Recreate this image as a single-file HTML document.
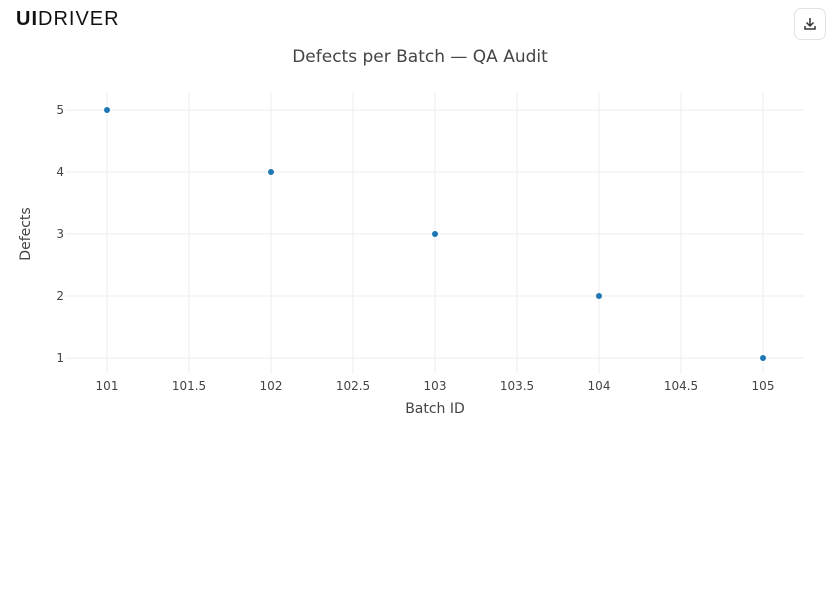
<!DOCTYPE html>
<html><head><meta charset="utf-8"><style>
body{margin:0;width:840px;height:600px;background:#fff;overflow:hidden;font-family:"Liberation Sans",sans-serif;}
.btn{position:absolute;left:794px;top:8px;width:32px;height:32px;border:1px solid #e2e2e2;border-radius:7px;box-sizing:border-box;}
</style></head><body>
<div style="position:absolute;left:16px;top:9px;font-size:20px;font-weight:bold;letter-spacing:1px;color:#111;line-height:20px">UI<span style="font-weight:normal">DRIVER</span></div>
<div class="btn"><svg width="30" height="30" viewBox="0 0 30 30"><path d="M15 9v8M11.5 13.5L15 17l3.5-3.5M10 17v3h10v-3" stroke="#333" stroke-width="1.5" fill="none"/></svg></div>
<svg width="840" height="600" style="position:absolute;left:0;top:0" font-family="DejaVu Sans, sans-serif">
<text x="420" y="62" text-anchor="middle" font-size="17" fill="#444">Defects per Batch — QA Audit</text>
<g stroke="#ececec" stroke-width="1">
<line x1="107" y1="92" x2="107" y2="374"/><line x1="189" y1="92" x2="189" y2="374"/><line x1="271" y1="92" x2="271" y2="374"/><line x1="353" y1="92" x2="353" y2="374"/><line x1="435" y1="92" x2="435" y2="374"/><line x1="517" y1="92" x2="517" y2="374"/><line x1="599" y1="92" x2="599" y2="374"/><line x1="681" y1="92" x2="681" y2="374"/><line x1="763" y1="92" x2="763" y2="374"/>
<line x1="66" y1="110" x2="804" y2="110"/><line x1="66" y1="172" x2="804" y2="172"/><line x1="66" y1="234" x2="804" y2="234"/><line x1="66" y1="296" x2="804" y2="296"/><line x1="66" y1="358" x2="804" y2="358"/>
</g>
<g font-size="12" fill="#444" text-anchor="middle">
<text x="107" y="390">101</text><text x="189" y="390">101.5</text><text x="271" y="390">102</text><text x="353" y="390">102.5</text><text x="435" y="390">103</text><text x="517" y="390">103.5</text><text x="599" y="390">104</text><text x="681" y="390">104.5</text><text x="763" y="390">105</text>
</g>
<g font-size="12" fill="#444" text-anchor="end">
<text x="64" y="114">5</text><text x="64" y="176">4</text><text x="64" y="238">3</text><text x="64" y="300">2</text><text x="64" y="362">1</text>
</g>
<text x="435" y="413" text-anchor="middle" font-size="14" fill="#444">Batch ID</text>
<text transform="translate(30,234) rotate(-90)" text-anchor="middle" font-size="14" fill="#444">Defects</text>
<g fill="#1f77b4">
<circle cx="107" cy="110" r="3"/><circle cx="271" cy="172" r="3"/><circle cx="435" cy="234" r="3"/><circle cx="599" cy="296" r="3"/><circle cx="763" cy="358" r="3"/>
</g>
</svg>
</body></html>
